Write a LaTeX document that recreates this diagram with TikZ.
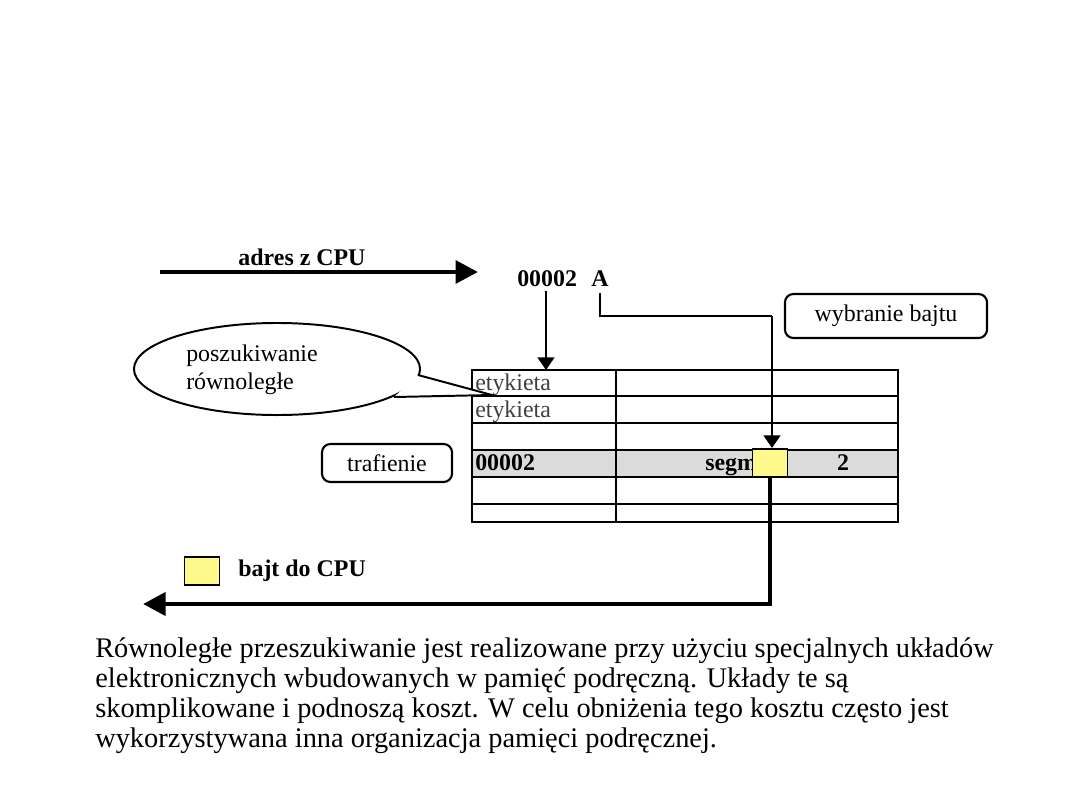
\documentclass[tikz,border=0pt]{standalone}
\usepackage{fontspec}
\setmainfont{Liberation Serif}
\usetikzlibrary{positioning,arrows.meta,shapes.geometric}

\tikzset{
  bigarrow/.style={line width=3.5pt, -{Triangle[length=16pt,width=16pt]}},
  smallarrow/.style={line width=1.4pt, -{Triangle[length=9pt,width=12pt]}},
  note/.style={draw, line width=1.5pt, rounded corners=6pt},
  byte/.style={draw, line width=1.4pt, fill=yellow!45, minimum width=0.875cm, minimum height=0.7cm, inner sep=0pt},
  txt/.style={inner sep=0pt, font=\fontsize{17}{20}\selectfont},
  btxt/.style={inner sep=0pt, font=\fontsize{17}{20}\selectfont\bfseries},
}

\begin{document}
\begin{tikzpicture}[x=0.025cm, y=-0.025cm]
  \useasboundingbox (0,0) rectangle (1080,810);

  % address from the CPU
  \coordinate (cpuin) at (160,272);
  \coordinate (addrend) at (478,272);
  \draw[bigarrow] (cpuin) -- (addrend);
  \node[btxt] (adres) at (302,257) {adres z CPU};
  \node[btxt, anchor=west] (tagaddr) at (517,279) {00002};
  \node[btxt] (byteaddr) at (600,279) {A};

  % the cache table
  \fill[black!14] (472,450) rectangle (898,477);
  \draw[line width=1.4pt] (472,370) rectangle (898,522);
  \foreach \y in {396,423,450,477,504} \draw[line width=1.4pt] (472,\y) -- (898,\y);
  \draw[line width=1.4pt] (616,370) -- (616,522);
  \coordinate (tabtop) at (546,370);
  \node[txt, text=black!75, anchor=base west] (tag1) at (475,390) {etykieta};
  \node[txt, text=black!75, anchor=base west] (tag2) at (475,417) {etykieta};
  \node[btxt, anchor=base west] (tag4) at (475,470) {00002};
  \node[btxt, anchor=base west] (seg) at (705,470) {segm};
  \node[btxt, anchor=base] (off) at (843,470) {2};
  \node[byte] (bajt) at (770,463) {};

  \draw[smallarrow] (tagaddr.south -| tabtop) ++(0,4) -- (tabtop);
  \coordinate (turn) at (772,316);
  \draw[line width=1.4pt] ([yshift=-4]byteaddr.south) |- (turn);
  \draw[smallarrow] (turn) -- (bajt.north -| turn);

  % byte back to the CPU
  \coordinate (cpuout) at (143,604);
  \draw[bigarrow] (bajt.south) |- (cpuout);
  \node[byte] (legend) at (202,571) {};
  \node[btxt, anchor=west] (legtext) at (238,571) {bajt do CPU};

  % notes
  \node[note, txt, minimum width=5.05cm, minimum height=1.1cm] (select) at (886,316) {wybranie bajtu};
  \node[note, txt, minimum width=3.25cm, minimum height=0.95cm] (hit) at (387,463) {trafienie};
  \node[draw, line width=1.4pt, ellipse, minimum width=7.15cm, minimum height=2.3cm] (callout) at (277,369) {};
  \node[txt, align=left, anchor=west] (calltext) at (186,370) {poszukiwanie\\równoległe};
  \coordinate (calltip) at (492,395);
  \draw[line width=1.4pt, fill=white] (418,375) -- (calltip) -- (394,397);

  % text below
  \node[anchor=north west, inner sep=0pt, align=left, font=\fontsize{20.2}{21.5}\selectfont] (para) at (95,637)
    {Równoległe przeszukiwanie jest realizowane przy użyciu specjalnych układów\\
     elektronicznych wbudowanych w pamięć podręczną. Układy te są\\
     skomplikowane i podnoszą koszt. W celu obniżenia tego kosztu często jest\\
     wykorzystywana inna organizacja pamięci podręcznej.};
\end{tikzpicture}
\end{document}
